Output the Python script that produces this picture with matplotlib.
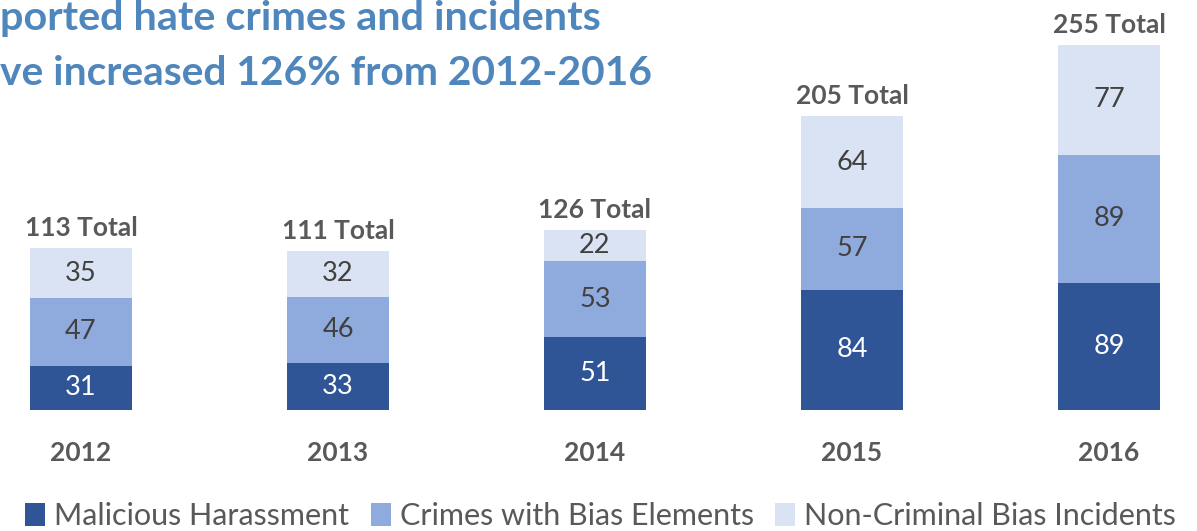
import matplotlib
matplotlib.use("Agg")
import matplotlib.pyplot as plt
from matplotlib.transforms import offset_copy
import numpy as np

years = ["2012", "2013", "2014", "2015", "2016"]
malicious = [31, 33, 51, 84, 89]
crimes_bias = [47, 46, 53, 57, 89]
non_criminal = [35, 32, 22, 64, 77]
totals = [113, 111, 126, 205, 255]
series_names = ["Malicious Harassment", "Crimes with Bias Elements", "Non-Criminal Bias Incidents"]
# the title as it is visible in the reference (its left edge is cropped there)
title_lines = ["ported hate crimes and incidents", "ve increased 126% from 2012-2016"]

colors = ["#2F5597", "#8FAADC", "#DAE3F3"]
label_colors = ["white", "#404040", "#404040"]
FONT = ["Lato", "DejaVu Sans"]

W, H, DPI = 1197, 531, 100
fig = plt.figure(figsize=(W / DPI, H / DPI), dpi=DPI)
base_px = 121
ax = fig.add_axes([0, base_px / H, 1, (H - base_px) / H])
x = np.arange(len(years))
spacing = 257.0
x0 = 81.0
ax.set_xlim(-x0 / spacing, (W - x0) / spacing)
ax.set_ylim(0, (H - base_px) / 1.432)
ax.axis("off")

width = 102 / spacing
bottom = np.zeros(len(years))
containers = []
for vals, col, lc, name in zip([malicious, crimes_bias, non_criminal], colors, label_colors, series_names):
    vals = np.array(vals, dtype=float)
    bc = ax.bar(x, vals, width, bottom=bottom, color=col, label=name, linewidth=0)
    containers.append(bc)
    for xi, b, v in zip(x, bottom, vals):
        ax.text(xi, b + v / 2, f"{int(v)}", ha="center", va="center", color=lc,
                fontsize=19.5, family=FONT, fontweight="normal")
    bottom = bottom + vals

for xi, top, t in zip(x, bottom, totals):
    tr = offset_copy(ax.transData, fig=fig, x=0, y=8, units="dots")
    ax.text(xi, top, f"{t} Total", ha="center", va="bottom", transform=tr,
            color="#595959", fontsize=19, family=FONT, fontweight="bold")

for xi, yr in zip(x, years):
    tr = offset_copy(ax.transData, fig=fig, x=0, y=-43, units="dots")
    ax.text(xi, 0, yr, ha="center", va="center", transform=tr,
            color="#595959", fontsize=19, family=FONT, fontweight="bold")

fig.text(0.5 / W, 1 - 30 / H, title_lines[0], ha="left", va="baseline",
         color="#4F86BC", fontsize=29.8, family=FONT, fontweight="bold")
fig.text(0.5 / W, 1 - 85 / H, title_lines[1], ha="left", va="baseline",
         color="#4F86BC", fontsize=29.3, family=FONT, fontweight="bold")

leg = fig.legend(handles=containers, labels=series_names, loc="lower center",
                 bbox_to_anchor=(0.502, -0.05), ncol=3, frameon=False,
                 handlelength=0.65, handleheight=0.75, handletextpad=0.3,
                 columnspacing=0.7, prop={"family": FONT, "size": 22, "weight": "normal"})
for t in leg.get_texts():
    t.set_color("#595959")

fig.savefig("out.png", dpi=DPI)
